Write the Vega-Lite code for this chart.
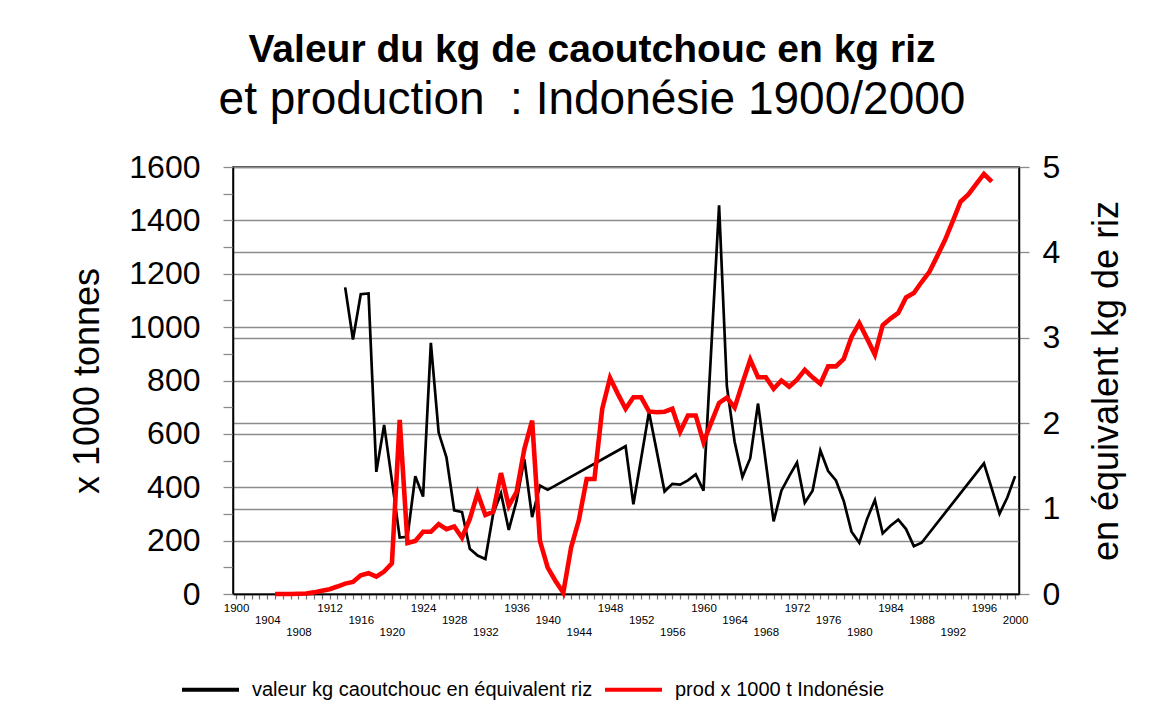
{
  "$schema": "https://vega.github.io/schema/vega-lite/v6.json",
  "width": 786,
  "height": 427,
  "autosize": {"type": "none"},
  "padding": {"left": 233, "top": 167, "right": 157, "bottom": 134},
  "background": "white",
  "config": {
    "view": {"stroke": "black", "strokeWidth": 1.5},
    "font": "Liberation Sans"
  },
  "title": {
    "text": "Valeur du kg de caoutchouc en kg riz",
    "subtitle": "et production\u00a0\u00a0: Indonésie 1900/2000",
    "anchor": "middle",
    "frame": "group",
    "dx": -34,
    "offset": 28,
    "font": "Liberation Sans",
    "fontSize": 39,
    "fontWeight": "bold",
    "color": "black",
    "subtitleFont": "Liberation Sans",
    "subtitleFontSize": 46,
    "subtitleColor": "black",
    "subtitlePadding": 8
  },
  "data": {
    "values": [
      {"annee": 1905, "prod": 0, "valeur": null},
      {"annee": 1906, "prod": 0, "valeur": null},
      {"annee": 1907, "prod": 0, "valeur": null},
      {"annee": 1908, "prod": 1, "valeur": null},
      {"annee": 1909, "prod": 2, "valeur": null},
      {"annee": 1910, "prod": 6, "valeur": null},
      {"annee": 1911, "prod": 12, "valeur": null},
      {"annee": 1912, "prod": 18, "valeur": null},
      {"annee": 1913, "prod": 28, "valeur": null},
      {"annee": 1914, "prod": 39, "valeur": 3.59},
      {"annee": 1915, "prod": 45, "valeur": 2.98},
      {"annee": 1916, "prod": 70, "valeur": 3.51},
      {"annee": 1917, "prod": 78, "valeur": 3.52},
      {"annee": 1918, "prod": 65, "valeur": 1.43},
      {"annee": 1919, "prod": 84, "valeur": 1.98},
      {"annee": 1920, "prod": 115, "valeur": 1.33},
      {"annee": 1921, "prod": 652, "valeur": 0.66},
      {"annee": 1922, "prod": 191, "valeur": 0.67},
      {"annee": 1923, "prod": 199, "valeur": 1.38},
      {"annee": 1924, "prod": 233, "valeur": 1.14},
      {"annee": 1925, "prod": 233, "valeur": 2.94},
      {"annee": 1926, "prod": 262, "valeur": 1.89},
      {"annee": 1927, "prod": 243, "valeur": 1.6},
      {"annee": 1928, "prod": 253, "valeur": 0.98},
      {"annee": 1929, "prod": 211, "valeur": 0.96},
      {"annee": 1930, "prod": 281, "valeur": 0.53},
      {"annee": 1931, "prod": 378, "valeur": 0.45},
      {"annee": 1932, "prod": 296, "valeur": 0.41},
      {"annee": 1933, "prod": 308, "valeur": 0.94},
      {"annee": 1934, "prod": 453, "valeur": 1.18},
      {"annee": 1935, "prod": 330, "valeur": 0.75},
      {"annee": 1936, "prod": 382, "valeur": 1.09},
      {"annee": 1937, "prod": 543, "valeur": 1.58},
      {"annee": 1938, "prod": 650, "valeur": 0.9},
      {"annee": 1939, "prod": 199, "valeur": 1.27},
      {"annee": 1940, "prod": 99, "valeur": 1.22},
      {"annee": 1941, "prod": 49, "valeur": null},
      {"annee": 1942, "prod": 5, "valeur": null},
      {"annee": 1943, "prod": 174, "valeur": null},
      {"annee": 1944, "prod": 277, "valeur": null},
      {"annee": 1945, "prod": 431, "valeur": null},
      {"annee": 1946, "prod": 431, "valeur": null},
      {"annee": 1947, "prod": 694, "valeur": null},
      {"annee": 1948, "prod": 810, "valeur": null},
      {"annee": 1949, "prod": 750, "valeur": null},
      {"annee": 1950, "prod": 694, "valeur": 1.73},
      {"annee": 1951, "prod": 737, "valeur": 1.05},
      {"annee": 1952, "prod": 737, "valeur": 1.59},
      {"annee": 1953, "prod": 684, "valeur": 2.13},
      {"annee": 1954, "prod": 681, "valeur": 1.67},
      {"annee": 1955, "prod": 683, "valeur": 1.2},
      {"annee": 1956, "prod": 694, "valeur": 1.29},
      {"annee": 1957, "prod": 608, "valeur": 1.28},
      {"annee": 1958, "prod": 669, "valeur": 1.33},
      {"annee": 1959, "prod": 669, "valeur": 1.4},
      {"annee": 1960, "prod": 568, "valeur": 1.21},
      {"annee": 1961, "prod": 643, "valeur": 2.88},
      {"annee": 1962, "prod": 716, "valeur": 4.55},
      {"annee": 1963, "prod": 736, "valeur": 2.43},
      {"annee": 1964, "prod": 698, "valeur": 1.78},
      {"annee": 1965, "prod": 790, "valeur": 1.37},
      {"annee": 1966, "prod": 878, "valeur": 1.59},
      {"annee": 1967, "prod": 812, "valeur": 2.23},
      {"annee": 1968, "prod": 812, "valeur": 1.54},
      {"annee": 1969, "prod": 769, "valeur": 0.85},
      {"annee": 1970, "prod": 800, "valeur": 1.21},
      {"annee": 1971, "prod": 777, "valeur": 1.38},
      {"annee": 1972, "prod": 803, "valeur": 1.54},
      {"annee": 1973, "prod": 840, "valeur": 1.07},
      {"annee": 1974, "prod": 812, "valeur": 1.21},
      {"annee": 1975, "prod": 788, "valeur": 1.68},
      {"annee": 1976, "prod": 853, "valeur": 1.44},
      {"annee": 1977, "prod": 853, "valeur": 1.33},
      {"annee": 1978, "prod": 881, "valeur": 1.09},
      {"annee": 1979, "prod": 963, "valeur": 0.73},
      {"annee": 1980, "prod": 1015, "valeur": 0.6},
      {"annee": 1981, "prod": 957, "valeur": 0.88},
      {"annee": 1982, "prod": 897, "valeur": 1.1},
      {"annee": 1983, "prod": 1007, "valeur": 0.71},
      {"annee": 1984, "prod": 1032, "valeur": 0.8},
      {"annee": 1985, "prod": 1053, "valeur": 0.87},
      {"annee": 1986, "prod": 1111, "valeur": 0.76},
      {"annee": 1987, "prod": 1128, "valeur": 0.56},
      {"annee": 1988, "prod": 1169, "valeur": 0.6},
      {"annee": 1989, "prod": 1207, "valeur": null},
      {"annee": 1990, "prod": 1266, "valeur": null},
      {"annee": 1991, "prod": 1326, "valeur": null},
      {"annee": 1992, "prod": 1397, "valeur": null},
      {"annee": 1993, "prod": 1470, "valeur": null},
      {"annee": 1994, "prod": 1497, "valeur": null},
      {"annee": 1995, "prod": 1536, "valeur": null},
      {"annee": 1996, "prod": 1574, "valeur": 1.53},
      {"annee": 1997, "prod": 1545, "valeur": null},
      {"annee": 1998, "prod": null, "valeur": 0.94},
      {"annee": 1999, "prod": null, "valeur": 1.13},
      {"annee": 2000, "prod": null, "valeur": 1.38}
    ]
  },
  "encoding": {
    "x": {
      "field": "annee",
      "type": "quantitative",
      "scale": {"domain": [1899.6, 2000.5], "nice": false, "zero": false},
      "axis": {
        "title": null,
        "values": [1900,1901,1902,1903,1904,1905,1906,1907,1908,1909,1910,1911,1912,1913,1914,1915,1916,1917,1918,1919,1920,1921,1922,1923,1924,1925,1926,1927,1928,1929,1930,1931,1932,1933,1934,1935,1936,1937,1938,1939,1940,1941,1942,1943,1944,1945,1946,1947,1948,1949,1950,1951,1952,1953,1954,1955,1956,1957,1958,1959,1960,1961,1962,1963,1964,1965,1966,1967,1968,1969,1970,1971,1972,1973,1974,1975,1976,1977,1978,1979,1980,1981,1982,1983,1984,1985,1986,1987,1988,1989,1990,1991,1992,1993,1994,1995,1996,1997,1998,1999,2000],
        "format": "d",
        "labelExpr": "datum.value % 4 == 0 ? datum.label : ''",
        "labelOverlap": false,
        "labelFlush": false,
        "labelFont": "Liberation Sans",
        "labelFontSize": 11.5,
        "labelColor": "black",
        "labelPadding": {"condition": [{"test": "datum.value % 12 == 8", "value": 15}, {"test": "datum.value % 12 == 0", "value": 27}], "value": 3},
        "domainColor": "black",
        "domainWidth": 1.5,
        "tickColor": "#707070",
        "tickWidth": 1.2,
        "tickSize": 5,
        "grid": false,
        "encode": {"ticks": {"update": {"y": {"value": -8}}}}
      }
    }
  },
  "layer": [
    {
      "mark": {"type": "line", "invalid": "filter", "strokeWidth": 2.7, "strokeJoin": "miter", "strokeCap": "butt"},
      "encoding": {
        "y": {
          "field": "valeur",
          "type": "quantitative",
          "scale": {"domain": [0, 5], "nice": false, "zero": true},
          "axis": {
            "orient": "right",
            "values": [0,0.5,1,1.5,2,2.5,3,3.5,4,4.5,5],
            "labelExpr": "datum.value % 1 == 0 ? datum.label : ''",
            "format": "d",
            "labelOverlap": false,
            "labelFont": "Liberation Sans",
            "labelFontSize": 32,
            "labelColor": "black",
            "labelPadding": 13,
            "grid": true,
            "gridColor": "#8c8c8c",
            "gridWidth": 1.3,
            "gridOpacity": {"condition": {"test": "datum.value % 1 != 0", "value": 0}, "value": 1},
            "tickSize": 10,
            "tickColor": "#8c8c8c",
            "tickWidth": 1.3,
            "domainColor": "black",
            "domainWidth": 1.5,
            "title": "en équivalent kg de riz",
            "titleAngle": 270,
            "titleBaseline": "top",
            "titleFont": "Liberation Sans",
            "titleFontSize": 36,
            "titleFontWeight": "normal",
            "titleColor": "black",
            "titlePadding": 30,
            "encode": {"ticks": {"update": {"x": {"value": -9}}}}
          }
        },
        "color": {
          "datum": "valeur kg caoutchouc en équivalent riz",
          "type": "nominal",
          "scale": {"domain": ["valeur kg caoutchouc en équivalent riz", "prod x 1000 t Indonésie"], "range": ["#000000", "#ff0000"]},
          "legend": {
            "orient": "none",
            "legendX": -53,
            "legendY": 492,
            "direction": "horizontal",
            "title": null,
            "labelFont": "Liberation Sans",
            "labelFontSize": 20,
            "labelColor": "black",
            "symbolType": "stroke",
            "symbolSize": 3249,
            "symbolStrokeWidth": 4,
            "labelOffset": 11,
            "columnPadding": 4,
            "labelLimit": 600,
            "padding": 0
          }
        }
      }
    },
    {
      "mark": {"type": "line", "invalid": "filter", "strokeWidth": 4.6, "strokeJoin": "miter", "strokeCap": "butt"},
      "encoding": {
        "y": {
          "field": "prod",
          "type": "quantitative",
          "scale": {"domain": [0, 1600], "nice": false},
          "axis": {
            "orient": "left",
            "values": [0,100,200,300,400,500,600,700,800,900,1000,1100,1200,1300,1400,1500,1600],
            "labelExpr": "datum.value % 200 == 0 ? datum.label : ''",
            "format": "d",
            "labelOverlap": false,
            "labelFont": "Liberation Sans",
            "labelFontSize": 32,
            "labelColor": "black",
            "labelPadding": 23,
            "grid": true,
            "gridColor": "#8c8c8c",
            "gridWidth": 1.3,
            "gridOpacity": {"condition": {"test": "datum.value % 200 != 0", "value": 0}, "value": 1},
            "tickSize": 10,
            "tickColor": "#8c8c8c",
            "tickWidth": 1.3,
            "domainColor": "black",
            "domainWidth": 1.5,
            "title": "x 1000 tonnes",
            "titleFont": "Liberation Sans",
            "titleFontSize": 36,
            "titleFontWeight": "normal",
            "titleColor": "black",
            "titlePadding": 22,
            "encode": {"ticks": {"update": {"x": {"value": 9}}}}
          }
        },
        "color": {
          "datum": "prod x 1000 t Indonésie",
          "type": "nominal"
        }
      }
    }
  ],
  "resolve": {"scale": {"y": "independent"}}
}
